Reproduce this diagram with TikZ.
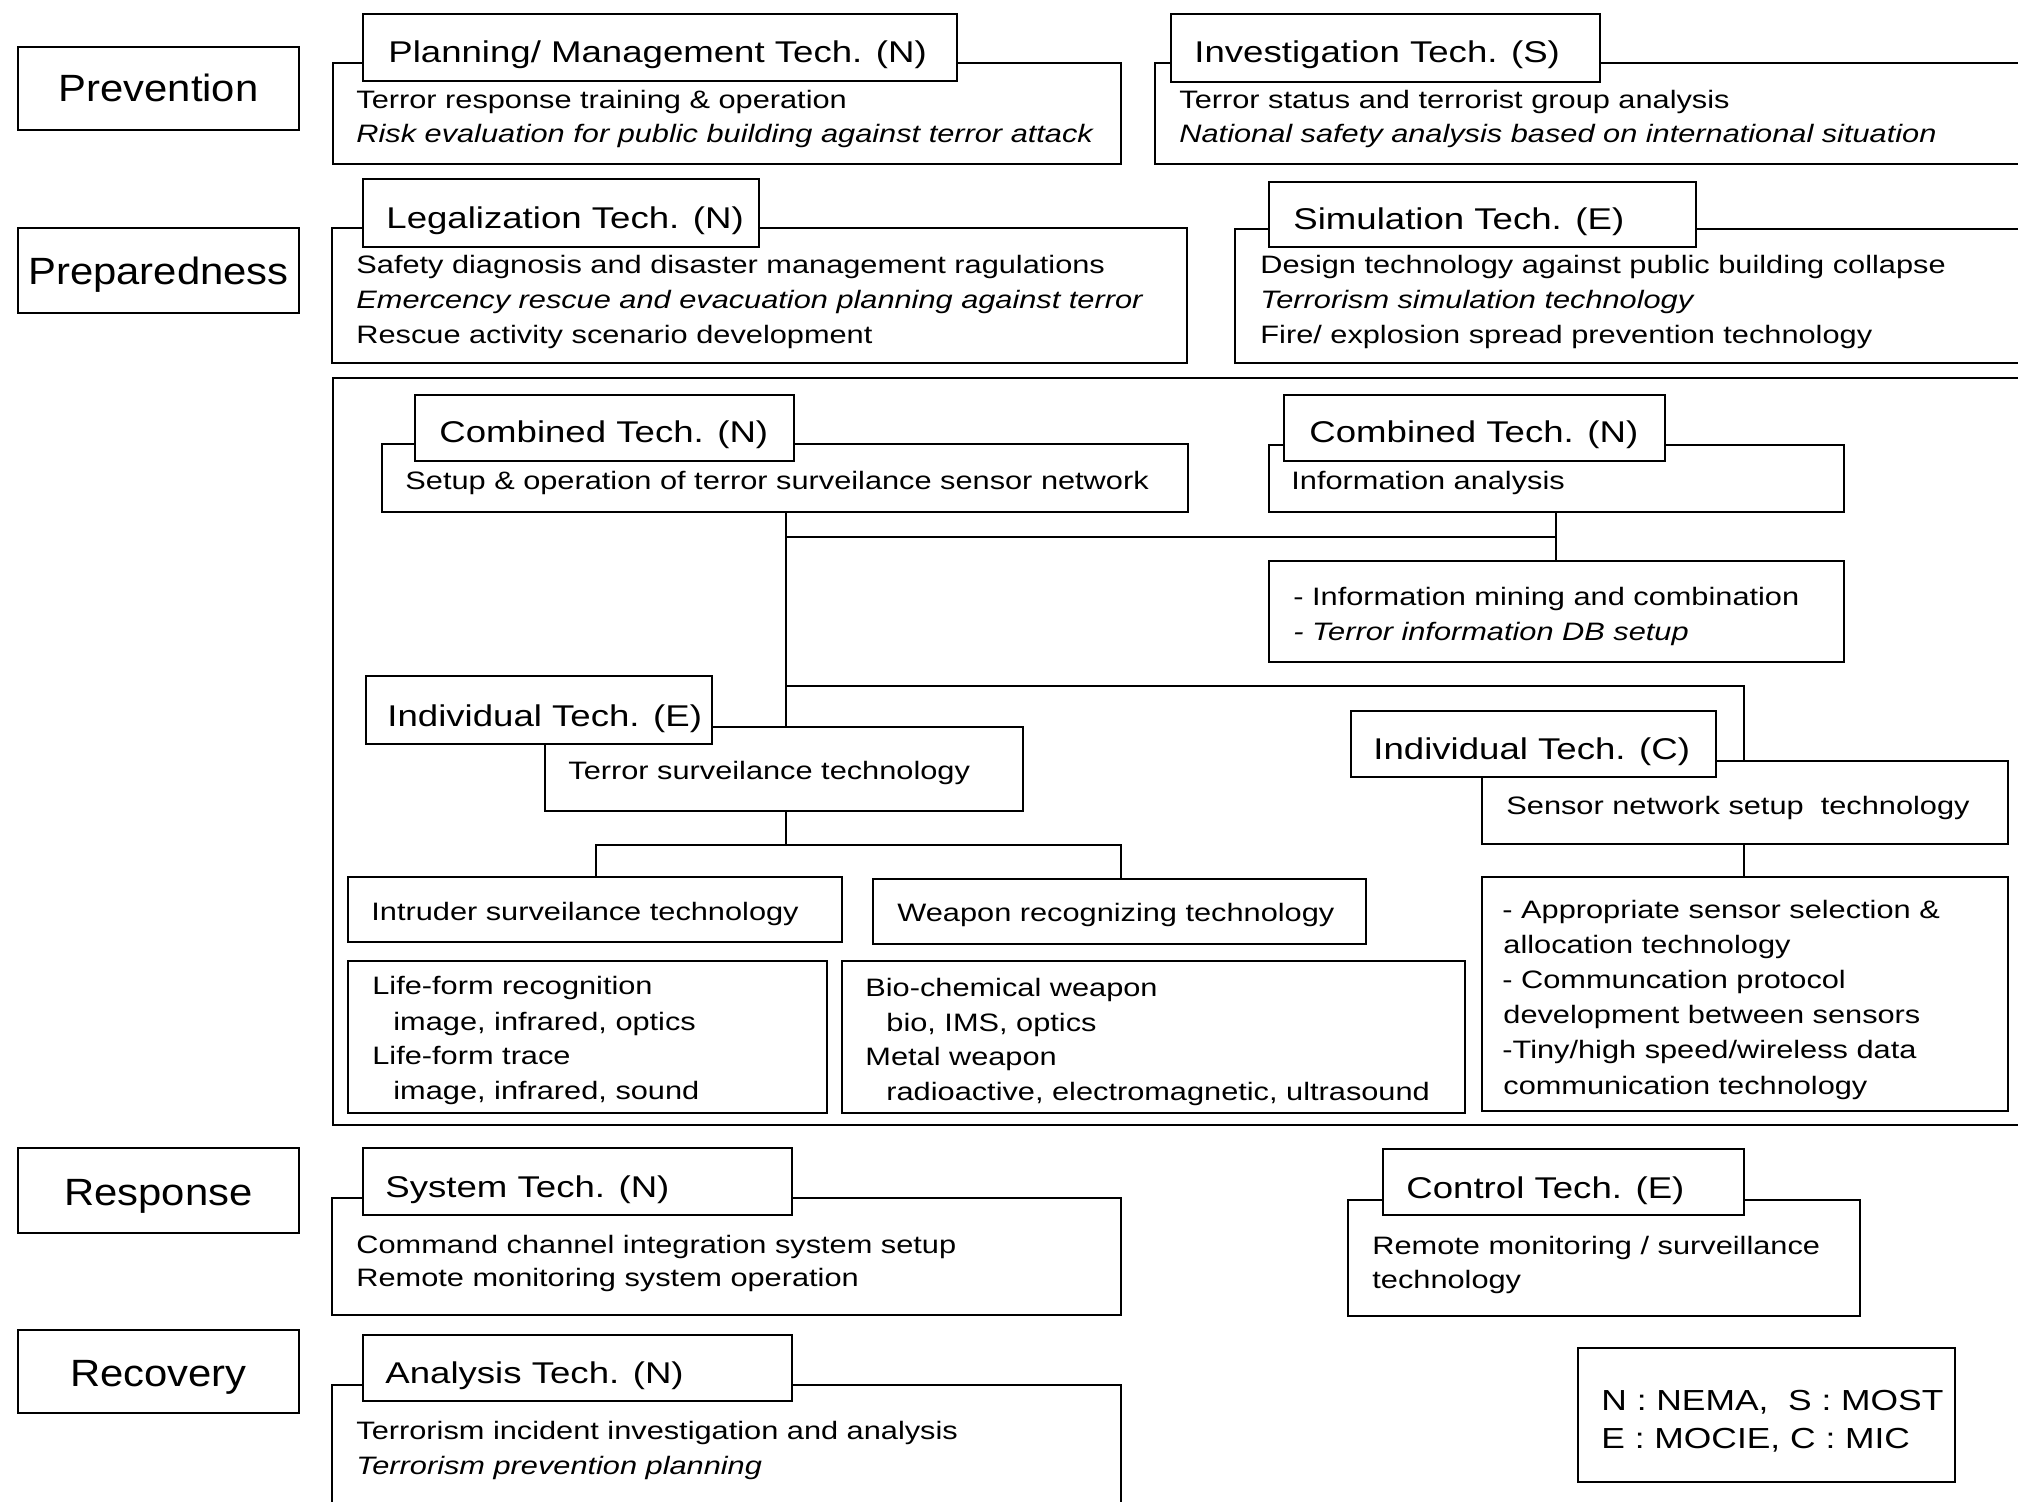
\documentclass[tikz,border=0pt]{standalone}
\usepackage{fontspec}
\setmainfont{Liberation Sans}[FakeStretch=1.22]
\newfontfamily\catfont{Liberation Sans}[FakeStretch=1.1]
\usetikzlibrary{fit}
\tikzset{
  bx/.style={draw, line width=1.2pt, inner sep=0pt},
  hdr/.style={bx, fill=white},
  ln/.style={line width=1.2pt},
  body/.style={anchor=base west, inner sep=0pt, font=\fontsize{12.6}{15}\selectfont},
  itbody/.style={body, font=\fontsize{12.6}{15}\selectfont\itshape},
  htext/.style={anchor=base west, inner sep=0pt, font=\fontsize{15}{18}\selectfont},
  legtext/.style={anchor=base west, inner sep=0pt, font=\fontsize{14.5}{18}\selectfont},
  cattext/.style={anchor=base, inner sep=0pt, font=\catfont\fontsize{19}{22}\selectfont}
}
\newcommand{\mybox}[6][bx]{\node[#1, fit={(#3,#4)(#5,#6)}] (#2) {};}
\begin{document}
\begin{tikzpicture}[x=0.5pt, y=-0.5pt]
\useasboundingbox (0,0) rectangle (2018,1502);
\clip (0,0) rectangle (2018,1502);

% category boxes
\mybox{prev}{18}{47}{299}{130}
\node[cattext] (prevt) at (158.5,102) {Prevention};
\mybox{prep}{18}{228}{299}{313}
\node[cattext] (prept) at (158.5,285) {Preparedness};
\mybox{resp}{18}{1148}{299}{1233}
\node[cattext] (respt) at (158.5,1205) {Response};
\mybox{reco}{18}{1330}{299}{1413}
\node[cattext] (recot) at (158.5,1386) {Recovery};

% Prevention row
\mybox{planc}{333}{63}{1121}{164}
\mybox[hdr]{planh}{363}{14}{957}{81}
\node[htext] (planht) at (388,63) {Planning/ Management Tech. (N)};
\node[body] (plan1) at (356,109) {Terror response training \& operation};
\node[itbody] (plan2) at (356,143) {Risk evaluation for public building against terror attack};

\mybox{invc}{1155}{63}{2040}{164}
\mybox[hdr]{invh}{1171}{14}{1600}{82}
\node[htext] (invht) at (1194,63) {Investigation Tech. (S)};
\node[body] (inv1) at (1179,109) {Terror status and terrorist group analysis};
\node[itbody] (inv2) at (1179,143) {National safety analysis based on international situation};

% Preparedness row
\mybox{legc}{332}{228}{1187}{363}
\mybox[hdr]{legh}{363}{179}{759}{247}
\node[htext] (leght) at (386,229) {Legalization Tech. (N)};
\node[body] (leg1) at (356,274) {Safety diagnosis and disaster management ragulations};
\node[itbody] (leg2) at (356,309) {Emercency rescue and evacuation planning against terror};
\node[body] (leg3) at (356,344) {Rescue activity scenario development};

\mybox{simc}{1235}{229}{2040}{363}
\mybox[hdr]{simh}{1269}{182}{1696}{247}
\node[htext] (simht) at (1293,230) {Simulation Tech. (E)};
\node[body] (sim1) at (1260,274) {Design technology against public building collapse};
\node[itbody] (sim2) at (1260,309) {Terrorism simulation technology};
\node[body] (sim3) at (1260,344) {Fire/ explosion spread prevention technology};

% big middle box
\mybox{big}{333}{378}{2040}{1125}

\mybox{comb1c}{382}{444}{1188}{512}
\mybox[hdr]{comb1h}{415}{395}{794}{461}
\node[htext] (comb1ht) at (439,443) {Combined Tech. (N)};
\node[body] (comb1t) at (405,490) {Setup \& operation of terror surveilance sensor network};

\mybox{comb2c}{1269}{445}{1844}{512}
\mybox[hdr]{comb2h}{1284}{395}{1665}{461}
\node[htext] (comb2ht) at (1309,443) {Combined Tech. (N)};
\node[body] (comb2t) at (1291,490) {Information analysis};

\mybox{mine}{1269}{561}{1844}{662}
\node[body] (mine1) at (1293,605) {- Information mining and combination};
\node[itbody] (mine2) at (1293,640) {- Terror information DB setup};

\mybox{ts}{545}{727}{1023}{811}
\mybox[hdr]{indeh}{366}{676}{712}{744}
\node[htext] (indeht) at (387,726) {Individual Tech. (E)};
\node[body] (tst) at (568,779) {Terror surveilance technology};

\mybox{sn}{1482}{761}{2008}{844}
\mybox[hdr]{indch}{1351}{711}{1716}{777}
\node[htext] (indcht) at (1373,759) {Individual Tech. (C)};
\node[body] (snt) at (1506,814) {Sensor network setup \ technology};

\mybox{intr}{348}{877}{842}{942}
\node[body] (intrt) at (371,920) {Intruder surveilance technology};
\mybox{weap}{873}{879}{1366}{944}
\node[body] (weapt) at (897,921) {Weapon recognizing technology};

\mybox{life}{348}{961}{827}{1113}
\node[body] (life1) at (372,994) {Life-form recognition};
\node[body] (life2) at (393,1030) {image, infrared, optics};
\node[body] (life3) at (372,1064) {Life-form trace};
\node[body] (life4) at (393,1099) {image, infrared, sound};

\mybox{bio}{842}{961}{1465}{1113}
\node[body] (bio1) at (865,996) {Bio-chemical weapon};
\node[body] (bio2) at (886,1031) {bio, IMS, optics};
\node[body] (bio3) at (865,1065) {Metal weapon};
\node[body] (bio4) at (886,1100) {radioactive, electromagnetic, ultrasound};

\mybox{bul}{1482}{877}{2008}{1111}
\node[body] (bul1) at (1502,918) {- Appropriate sensor selection \&};
\node[body] (bul2) at (1503,953) {allocation technology};
\node[body] (bul3) at (1502,988) {- Communcation protocol};
\node[body] (bul4) at (1503,1023) {development between sensors};
\node[body] (bul5) at (1502,1058) {-Tiny/high speed/wireless data};
\node[body] (bul6) at (1503,1094) {communication technology};

% connectors in middle box
\coordinate (vx) at (786,0);
\coordinate (vxb) at (1556,0);
\coordinate (vxc) at (1744,0);
\coordinate (vxl) at (596,0);
\coordinate (vxr) at (1121,0);
\coordinate (hb) at (0,537);
\coordinate (hc) at (0,686);
\coordinate (hd) at (0,845);
\draw[ln] (comb1c.south -| vx) -- (ts.north -| vx);
\draw[ln] (vx |- hb) -- (vxb |- hb);
\draw[ln] (comb2c.south -| vxb) -- (mine.north -| vxb);
\draw[ln] (vx |- hc) -| (sn.north -| vxc);
\draw[ln] (ts.south -| vx) -- (vx |- hd);
\draw[ln] (intr.north -| vxl) |- (vxr |- hd) -- (weap.north -| vxr);
\draw[ln] (sn.south -| vxc) -- (bul.north -| vxc);

% Response row
\mybox{sysc}{332}{1198}{1121}{1315}
\mybox[hdr]{sysh}{363}{1148}{792}{1215}
\node[htext] (sysht) at (385,1197) {System Tech. (N)};
\node[body] (sys1) at (356,1253) {Command channel integration system setup};
\node[body] (sys2) at (356,1286) {Remote monitoring system operation};

\mybox{conc}{1348}{1200}{1860}{1316}
\mybox[hdr]{conh}{1383}{1149}{1744}{1215}
\node[htext] (conht) at (1406,1198) {Control Tech. (E)};
\node[body] (con1) at (1372,1254) {Remote monitoring / surveillance};
\node[body] (con2) at (1372,1288) {technology};

% Recovery row
\mybox{anac}{332}{1385}{1121}{1530}
\mybox[hdr]{anah}{363}{1335}{792}{1401}
\node[htext] (anaht) at (385,1383) {Analysis Tech. (N)};
\node[body] (ana1) at (356,1439) {Terrorism incident investigation and analysis};
\node[itbody] (ana2) at (356,1474) {Terrorism prevention planning};

% legend
\mybox{leg}{1578}{1348}{1955}{1482}
\node[legtext] (leg1t) at (1601,1410) {N : NEMA, \ S : MOST};
\node[legtext] (leg2t) at (1601,1448) {E : MOCIE, C : MIC};
\end{tikzpicture}
\end{document}
